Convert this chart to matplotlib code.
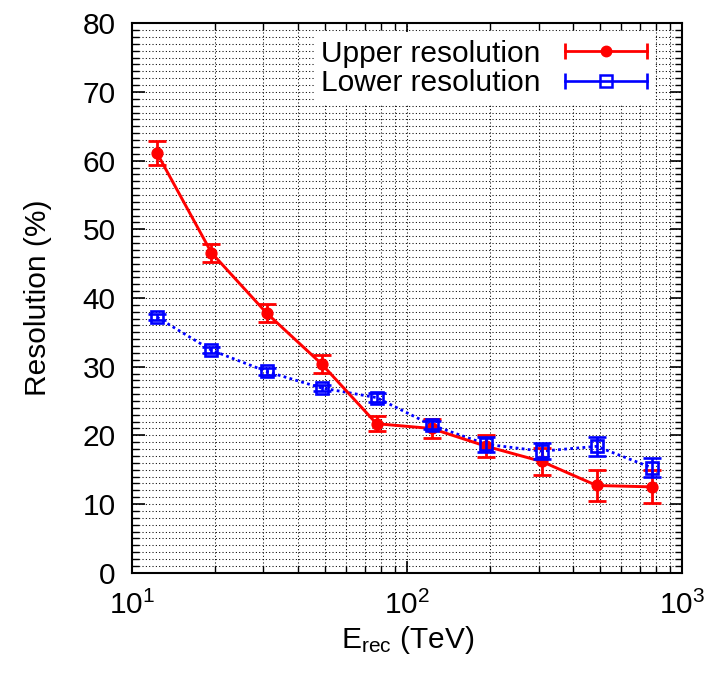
import numpy as np
import matplotlib
matplotlib.use("Agg")
import matplotlib.pyplot as plt
from matplotlib.lines import Line2D
from matplotlib.legend_handler import HandlerLine2D, HandlerTuple
from matplotlib.ticker import LogLocator, MultipleLocator, NullFormatter

plt.rcParams['font.family'] = ['Liberation Sans', 'DejaVu Sans']
plt.rcParams['mathtext.fontset'] = 'custom'
plt.rcParams['mathtext.rm'] = 'Liberation Sans'
plt.rcParams['mathtext.it'] = 'Liberation Sans:italic'

energy = [12.3, 19.4, 30.8, 48.8, 77.3, 122.5, 194.0, 308.0, 488.0, 773.0]
upper_res = [61.1, 46.6, 37.8, 30.4, 21.7, 21.0, 18.4, 16.2, 12.7, 12.5]
upper_err = [1.8, 1.3, 1.3, 1.3, 1.1, 1.4, 1.6, 1.9, 2.2, 2.4]
lower_res = [37.2, 32.4, 29.3, 26.9, 25.5, 21.5, 18.7, 17.7, 18.4, 15.3]
lower_err = [0.4, 0.4, 0.5, 0.5, 0.6, 0.6, 1.1, 1.2, 1.4, 1.4]

FS = 21.5

fig = plt.figure(figsize=(7.1, 6.73), dpi=100)
ax = fig.add_axes([0.1863, 0.149, 0.961 - 0.1863, 0.9654 - 0.149])

ax.errorbar(energy, upper_res, yerr=upper_err, color='#ff0000', lw=2.1,
            marker='o', ms=7.8, capsize=6.5, capthick=2.0, elinewidth=2.0, zorder=4)
ax.plot(energy, lower_res, color='#0000ff', lw=2.0, ls=(0, (1, 1.2)), zorder=3)
ax.errorbar(energy, lower_res, yerr=lower_err, color='#0000ff', ls='none',
            marker='s', ms=8.5, mfc='none', mew=1.9, capsize=6.5, capthick=1.9,
            elinewidth=1.9, zorder=5)

ax.set_xscale('log')
ax.set_xlim(10, 1000)
ax.set_ylim(0, 80)
ax.xaxis.set_major_locator(LogLocator(base=10, numticks=10))
ax.xaxis.set_minor_locator(LogLocator(base=10, subs=np.arange(2, 10), numticks=20))
ax.xaxis.set_minor_formatter(NullFormatter())
ax.yaxis.set_major_locator(MultipleLocator(10))
ax.yaxis.set_minor_locator(MultipleLocator(1))

ax.grid(True, which='both', color='black', ls=(0, (1, 2.2)), lw=0.75)
ax.set_axisbelow(True)
ax.tick_params(which='both', direction='in', top=True, right=True, labelsize=FS,
               colors='black')
ax.tick_params(axis='x', which='major', pad=13)
ax.tick_params(axis='y', which='major', pad=12)
ax.tick_params(which='major', length=9, width=1.2)
ax.tick_params(which='minor', length=5, width=1.0)
for s in ax.spines.values():
    s.set_linewidth(1.5)

ax.set_xlabel(r'E$_{\mathrm{rec}}$ (TeV)', fontsize=FS, labelpad=3)
ax.set_ylabel('Resolution (%)', fontsize=FS, labelpad=22)

# legend handles: horizontal bar with end caps plus marker
red_bar = Line2D([], [], color='#ff0000', lw=2.0, marker='|', ms=12, mew=2.0)
red_mk = Line2D([], [], color='#ff0000', ls='none', marker='o', ms=7.5)
blue_bar = Line2D([], [], color='#0000ff', lw=1.9, marker='|', ms=12, mew=1.9)
blue_mk = Line2D([], [], color='#0000ff', ls='none', marker='s', ms=8, mfc='none', mew=1.8)
hmap = {
    red_bar: HandlerLine2D(numpoints=2, marker_pad=0),
    blue_bar: HandlerLine2D(numpoints=2, marker_pad=0),
    red_mk: HandlerLine2D(numpoints=1),
    blue_mk: HandlerLine2D(numpoints=1),
    tuple: HandlerTuple(ndivide=1),
}
leg = ax.legend([(red_bar, red_mk), (blue_bar, blue_mk)],
                ['Upper resolution', 'Lower resolution'],
                handler_map=hmap, loc='upper right', markerfirst=False,
                fontsize=FS, frameon=True, fancybox=False, framealpha=1,
                edgecolor='white', handlelength=2.75, handletextpad=0.8,
                labelspacing=0.05, borderaxespad=0.3, borderpad=0.25,
                bbox_to_anchor=(0.965, 1.0))
leg.get_frame().set_linewidth(0)

fig.savefig('out.png', dpi=100)
